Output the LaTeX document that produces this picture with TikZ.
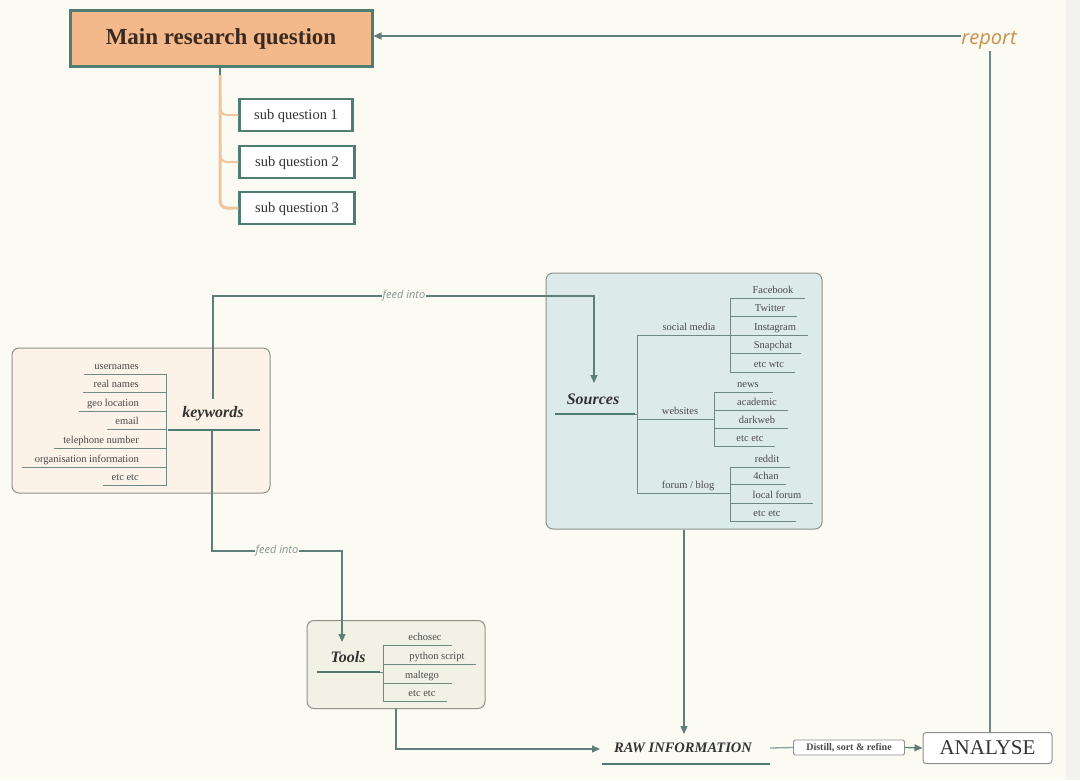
\documentclass[tikz,border=0pt]{standalone}
\usepackage{fontspec}
\setmainfont{Liberation Serif}
\newfontfamily\sansfam{Open Sans}
\usetikzlibrary{arrows.meta}
\definecolor{bg}{HTML}{FBFBF4}
\definecolor{edge}{HTML}{F2F2EE}
\definecolor{mainfill}{HTML}{F4B98B}
\definecolor{tealb}{HTML}{4F7D74}
\definecolor{conn}{HTML}{5F7E78}
\definecolor{orangeline}{HTML}{F0C49C}
\definecolor{kwfill}{HTML}{FCF2E8}
\definecolor{srcfill}{HTML}{DCEBEA}
\definecolor{toolfill}{HTML}{F1F2E5}
\definecolor{panelb}{HTML}{8F918B}
\definecolor{linec}{HTML}{6F8A85}
\definecolor{ulc}{HTML}{4E7A72}
\definecolor{dark}{HTML}{333333}
\definecolor{itemtxt}{HTML}{4A4A48}
\definecolor{reportc}{HTML}{C98E4B}
\definecolor{feedc}{HTML}{8A9490}
\definecolor{maintxt}{HTML}{3B2A20}
\begin{document}
\begin{tikzpicture}[x=1pt,y=-1pt,
  conn/.style={draw=conn, line width=1.3pt},
  arr/.style={conn, -{Triangle[length=8pt,width=7pt]}},
  item/.style={font=\fontsize{10.5}{11}\selectfont, text=itemtxt, inner sep=0pt},
  itemline/.style={draw=linec, line width=0.8pt},
  uline/.style={draw=ulc, line width=2pt},
  head/.style={font=\fontsize{16}{18}\selectfont\bfseries\itshape, text=dark, inner sep=0pt},
  panel/.style={draw=panelb, line width=1pt, rounded corners=7pt, inner sep=0pt},
  subq/.style={draw=tealb, line width=2.5pt, fill=white, minimum width=113pt, minimum height=32pt, inner sep=0pt, font=\fontsize{14.5}{16}\selectfont, text=dark, text depth=1pt},
  feed/.style={font=\sansfam\itshape\fontsize{11}{12}\selectfont, text=feedc, fill=bg, inner sep=1pt}
]
\path[use as bounding box, fill=bg] (0,0) rectangle (1080,780);
\fill[edge] (1066,0) rectangle (1080,780);

% main question
\node[draw=tealb, line width=3pt, fill=mainfill, minimum width=302pt, minimum height=56pt, inner sep=0pt,
      font=\fontsize{23}{25}\selectfont\bfseries, text=maintxt] (main) at (221,38.5) {Main research question};

% sub questions
\node[subq] (sq1) at (296,115) {sub question 1};
\node[subq, minimum width=115pt] (sq2) at (297,162) {sub question 2};
\node[subq, minimum width=115pt] (sq3) at (297,208) {sub question 3};
\coordinate (trunk) at (220,75);
\draw[draw=tealb, line width=1.5pt] (main.south -| trunk) -- (trunk);
\draw[draw=orangeline, line width=3pt, rounded corners=7pt] (trunk) |- (sq3.west);
\draw[draw=orangeline, line width=2pt, rounded corners=7pt] (220,100) |- (sq1.west);
\draw[draw=orangeline, line width=2pt, rounded corners=7pt] (220,146) |- (sq2.west);

% panels
\node[panel, fill=kwfill, minimum width=258pt, minimum height=145pt] (kwpanel) at (141,420.5) {};
\node[panel, fill=srcfill, minimum width=276pt, minimum height=256pt] (srcpanel) at (684,401) {};
\node[panel, fill=toolfill, minimum width=178pt, minimum height=88pt] (toolpanel) at (396,664.5) {};

% keywords
\node[head] (kw) at (213,414) {keywords};
\draw[uline] (168,429.5) -- (260,429.5);
\foreach \t/\l/\y [count=\i] in {usernames/84/374, real names/83/392.5, geo location/79/411, email/107/429.5, telephone number/54/448, organisation information/22/467, etc etc/103/485.5}{
  \draw[itemline] (\l,\y) -- (166,\y);
  \node[item, anchor=base east] (kw\i) at (139,\y-5) {\t};
}
\draw[itemline] (166,373.5) -- (166,486);

% sources
\node[head] (src) at (593,399) {Sources};
\draw[uline] (555,414) -- (635,414);
\draw[itemline] (637,335.5) -- (637,493);
\draw[itemline] (635,414) -- (637,414);
\draw[itemline] (637,335.5) -- (730,335.5);
\draw[itemline] (637,419) -- (714,419);
\draw[itemline] (637,493) -- (730,493);
\node[item, anchor=base] (sm) at (689,330.5) {social media};
\node[item, anchor=base] (ws) at (680,414) {websites};
\node[item, anchor=base] (fb) at (688,488) {forum / blog};
\draw[itemline] (730,298) -- (730,372);
\foreach \t/\cx/\r/\y [count=\i] in {Facebook/773/805/298, Twitter/770/797/316.5, Instagram/775/808/335.5, Snapchat/773/801/353.5, etc wtc/769/795/372}{
  \draw[itemline] (730,\y) -- (\r,\y);
  \node[item, anchor=base] (so\i) at (\cx,\y-5) {\t};
}
\draw[itemline] (714,392) -- (714,446);
\foreach \t/\cx/\r/\y [count=\i] in {news/748/773/392, academic/757/788/410, darkweb/757/788/428, etc etc/750/775/446}{
  \draw[itemline] (714,\y) -- (\r,\y);
  \node[item, anchor=base] (we\i) at (\cx,\y-5) {\t};
}
\draw[itemline] (730,467) -- (730,521);
\foreach \t/\cx/\r/\y [count=\i] in {reddit/767/790/467, 4chan/766/786/484.5, local forum/777/813/503, etc etc/767/796/521}{
  \draw[itemline] (730,\y) -- (\r,\y);
  \node[item, anchor=base] (fo\i) at (\cx,\y-5) {\t};
}

% tools
\node[head] (tools) at (348,657) {Tools};
\draw[uline] (317,672) -- (380,672);
\draw[itemline] (380,672) -- (383,672);
\draw[itemline] (383,645) -- (383,701);
\foreach \t/\cx/\r/\y [count=\i] in {echosec/425/452/645, python script/437/476/664, maltego/422/452/683, etc etc/422/447/701}{
  \draw[itemline] (383,\y) -- (\r,\y);
  \node[item, anchor=base] (to\i) at (\cx,\y-5) {\t};
}

% bottom row
\node[font=\fontsize{14.5}{16}\selectfont\bfseries\itshape, text=dark, inner sep=0pt] (raw) at (683,748) {RAW INFORMATION};
\draw[uline] (602,763.5) -- (770,763.5);
\node[draw=panelb, line width=0.9pt, rounded corners=2pt, fill=white, minimum width=111pt, minimum height=15pt, inner sep=0pt,
      font=\fontsize{10}{10}\selectfont\bfseries, text=itemtxt] (distill) at (849,747.5) {Distill, sort \& refine};
\node[draw=panelb, line width=1pt, rounded corners=3pt, fill=white, minimum width=129pt, minimum height=31pt, inner sep=0pt,
      font=\fontsize{21}{23}\selectfont, text=dark] (analyse) at (987.5,748) {ANALYSE};
\node[font=\sansfam\itshape\fontsize{20}{22}\selectfont, text=reportc, inner sep=0pt] (report) at (989,40) {report};

% connectors
\draw[arr] (report.west |- 0,36) -- (main.east |- 0,36);
\draw[conn, draw=linec] (990,51) -- (analyse.north -| 990,0);
\draw[conn, draw=linec!80] (770,748) -- (distill.west);
\draw[arr] (distill.east) -- (analyse.west);
\draw[arr] (srcpanel.south -| 684,0) -- (684,734);
\draw[arr] (toolpanel.south -| 396,0) -- (396,749) -- (600,749);

\coordinate (kwtop) at (213,399);
\coordinate (kwbot) at (212,430);
\draw[arr] (kwtop) -- (213,296) -- (594,296) -- (594,383);
\node[feed] (feed1) at (404,296) {feed into};
\draw[arr] (kwbot) -- (212,551) -- (342,551) -- (342,642);
\node[feed] (feed2) at (277,551) {feed into};
\end{tikzpicture}
\end{document}
